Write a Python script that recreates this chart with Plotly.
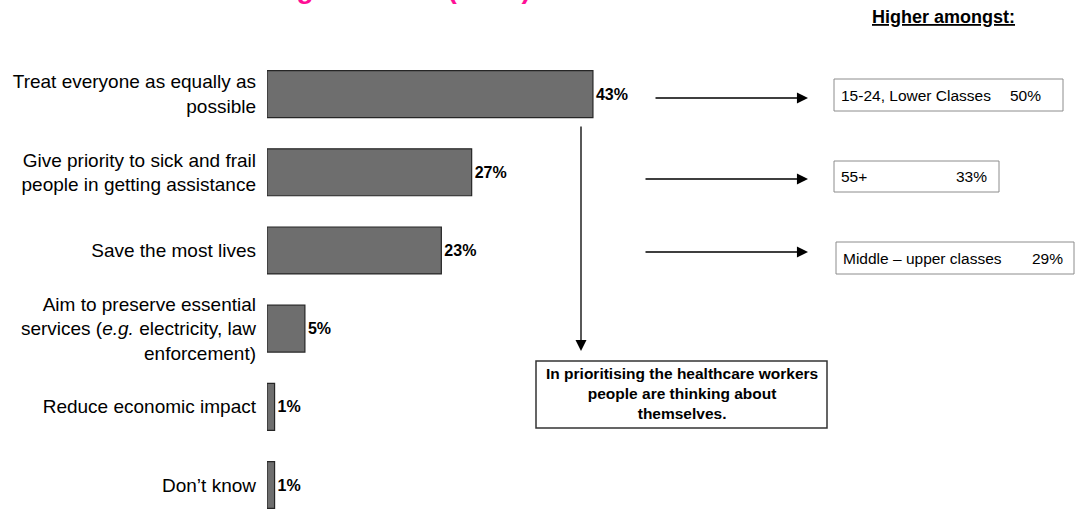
import plotly.graph_objects as go

# ---- data -------------------------------------------------------------
categories = [
    "Treat everyone as equally as<br>possible",
    "Give priority to sick and frail<br>people in getting assistance",
    "Save the most lives",
    "Aim to preserve essential<br>services (<i>e.g.</i> electricity, law<br>enforcement)",
    "Reduce economic impact",
    "Don\u2019t know",
]
shares = [43, 27, 23, 5, 1, 1]

subgroups = ["15-24, Lower Classes", "55+", "Middle \u2013 upper classes"]
subgroup_shares = [50, 33, 29]

headline = "Priorities in allocating vaccines (Total)"
side_heading = "Higher amongst:"
callout = "In prioritising the healthcare workers<br>people are thinking about<br>themselves."

# ---- canvas helpers (pixel -> paper) ----------------------------------
W, H = 1076, 512
FONT = "Liberation Sans, Arial, Helvetica, sans-serif"


def fx(px):
    return px / W


def fy(py):
    return 1 - py / H


PLOT_LEFT = 267          # pixel where 0% sits
PX_PER_PCT = 7.58        # bar scale
PLOT_TOP = 55

fig = go.Figure()

fig.add_trace(go.Bar(
    y=categories,
    x=shares,
    orientation="h",
    width=0.6,
    marker=dict(color="#6e6e6e", line=dict(color="#262626", width=1.2)),
    texttemplate="<b>%{x}%</b>",
    textposition="outside",
    textfont=dict(family=FONT, size=16, color="#000000"),
    cliponaxis=False,
    hoverinfo="skip",
    showlegend=False,
))

shapes = []
annotations = []

# headline (runs off the top edge of the canvas)
annotations.append(dict(
    text=f"<b>{headline}</b>", xref="paper", yref="paper",
    x=fx(19), y=fy(6), xanchor="left", yanchor="bottom",
    showarrow=False, font=dict(family=FONT, size=28, color="#FF0F96"),
))

# right-hand heading
annotations.append(dict(
    text=f"<b>{side_heading}</b>", xref="paper", yref="paper",
    x=fx(943), y=fy(17), xanchor="center", yanchor="middle",
    showarrow=False,
    font=dict(family=FONT, size=18, color="#000000", lineposition="under"),
))

# subgroup boxes
boxes = [
    (834, 1063, 79, 111, 1043),
    (834, 999, 161, 192, 989),
    (836, 1074, 242, 274, 1065),
]
for (x0, x1, y0, y1, pct_right), name, val in zip(boxes, subgroups, subgroup_shares):
    shapes.append(dict(
        type="rect", xref="paper", yref="paper",
        x0=fx(x0), x1=fx(x1), y0=fy(y0), y1=fy(y1),
        line=dict(color="#8c8c8c", width=1), fillcolor="white", layer="above",
    ))
    yc = fy((y0 + y1) / 2)
    annotations.append(dict(
        text=name, xref="paper", yref="paper", x=fx(x0 + 5), y=yc,
        xanchor="left", yanchor="middle", showarrow=False,
        font=dict(family=FONT, size=15.5, color="#000000"),
    ))
    annotations.append(dict(
        text=f"{val}%", xref="paper", yref="paper", x=fx(pct_right), y=yc,
        xanchor="right", yanchor="middle", showarrow=False,
        font=dict(family=FONT, size=15.5, color="#000000"),
    ))

# call-out box
shapes.append(dict(
    type="rect", xref="paper", yref="paper",
    x0=fx(536), x1=fx(827), y0=fy(361), y1=fy(428),
    line=dict(color="#333333", width=1.5), fillcolor="white", layer="above",
))
annotations.append(dict(
    text=f"<b>{callout}</b>", xref="paper", yref="paper",
    x=fx(681.5), y=fy(393), xanchor="center", yanchor="middle",
    showarrow=False, align="center",
    font=dict(family=FONT, size=15.5, color="#000000"),
))

# arrows: (tail_x, tail_y, head_x, head_y)
arrows = [
    (654, 98, 808, 98),
    (644, 179, 808, 179),
    (644, 252, 808, 252),
    (581, 125, 581, 351),
]
for tx, ty, hx, hy in arrows:
    annotations.append(dict(
        text="", xref="paper", yref="paper",
        x=fx(hx), y=fy(hy), axref="pixel", ayref="pixel",
        ax=tx - hx, ay=ty - hy,
        showarrow=True, arrowhead=2, arrowsize=1.7, arrowwidth=1.3,
        arrowcolor="#000000", standoff=0, startstandoff=0,
    ))

fig.update_layout(
    width=W, height=H,
    margin=dict(l=0, r=0, t=0, b=0),
    paper_bgcolor="white", plot_bgcolor="white",
    font=dict(family=FONT, color="#000000"),
    bargap=0.4,
    xaxis=dict(
        domain=[fx(PLOT_LEFT), 1],
        range=[0, (W - PLOT_LEFT) / PX_PER_PCT],
        visible=False, fixedrange=True,
    ),
    yaxis=dict(
        domain=[0, fy(PLOT_TOP)],
        type="category",
        categoryorder="array", categoryarray=categories,
        range=[(H - 94) / 78.2, -0.5],
        ticks="", showline=False, showgrid=False, zeroline=False,
        tickfont=dict(family=FONT, size=19, color="#000000"),
        ticklabelstandoff=10,
        automargin=False, fixedrange=True,
    ),
    shapes=shapes,
    annotations=annotations,
)

fig.write_html("out.html", config={"displayModeBar": False})
